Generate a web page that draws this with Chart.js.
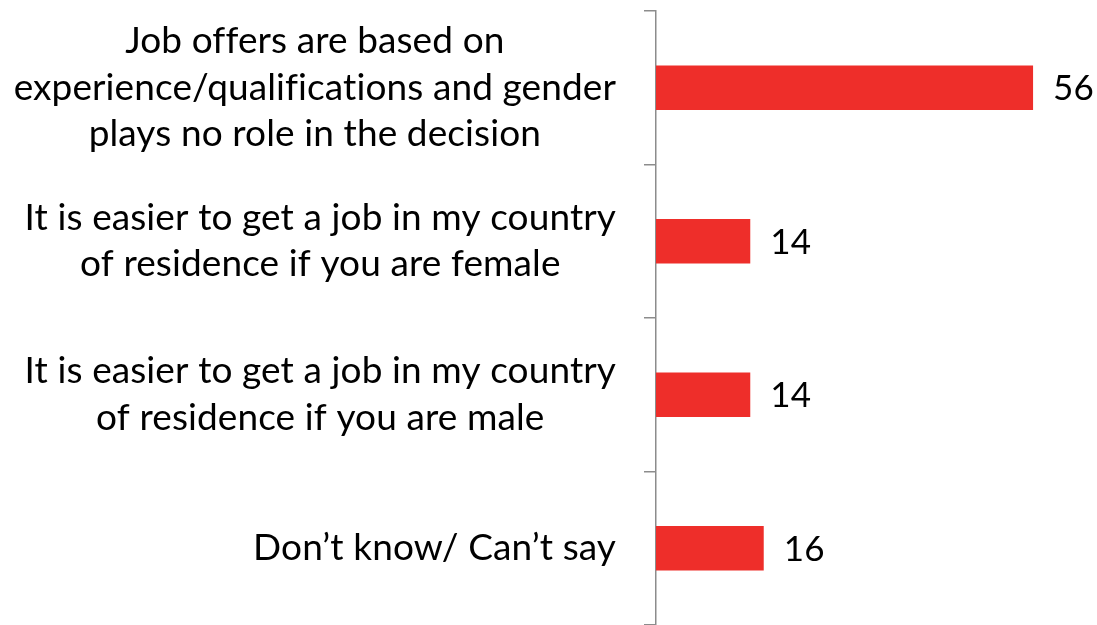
<!DOCTYPE html>
<html>
<head>
<meta charset="utf-8">
<script src="https://cdn.jsdelivr.net/npm/chart.js@4/dist/chart.umd.min.js"></script>
<style>
  html, body { margin: 0; padding: 0; background: #ffffff; }
  #wrap { width: 1097px; height: 625px; position: relative; }
</style>
</head>
<body>
<div id="wrap"><canvas id="c"></canvas></div>
<script>
// Survey answers (one entry per line of each category label)
const categories = [
  ["Job offers are based on", "experience/qualifications and gender", "plays no role in the decision"],
  ["It is easier to get a job in my country", "of residence if you are female"],
  ["It is easier to get a job in my country", "of residence if you are male"],
  ["Don’t know/ Can’t say"]
];
// Share of respondents (%)
const values = [56, 14, 14, 16];
const axisMax = 60;

const FONT_FAMILY = 'Lato, "Open Sans", sans-serif';
const FONT_SIZE = 37;
const VALUE_FONT_SIZE = 35;
const LINE_HEIGHT = 46.5;

function setTextStyle(ctx, size) {
  ctx.font = size + 'px ' + FONT_FAMILY;
  ctx.fillStyle = '#000000';
  // a tiny letter spacing keeps "fi"/"ti" as separate letters
  if ('letterSpacing' in ctx) ctx.letterSpacing = '0.1px';
}

// Category labels: each block right-aligned next to the axis, its lines centred on each other
const categoryLabels = {
  id: 'categoryLabels',
  afterDraw(chart) {
    const ctx = chart.ctx;
    const yScale = chart.scales.y;
    const right = chart.chartArea.left - 40;
    ctx.save();
    setTextStyle(ctx, FONT_SIZE);
    ctx.textAlign = 'center';
    ctx.textBaseline = 'middle';
    categories.forEach((lines, i) => {
      const cy = yScale.getPixelForValue(i);
      const widest = Math.max(...lines.map(l => ctx.measureText(l).width));
      const cx = right - widest / 2;
      lines.forEach((line, k) => {
        ctx.fillText(line, cx, cy + (k - (lines.length - 1) / 2) * LINE_HEIGHT);
      });
    });
    ctx.restore();
  }
};

// Value labels to the right of each bar
const valueLabels = {
  id: 'valueLabels',
  afterDatasetsDraw(chart) {
    const ctx = chart.ctx;
    const meta = chart.getDatasetMeta(0);
    ctx.save();
    setTextStyle(ctx, VALUE_FONT_SIZE);
    ctx.textAlign = 'left';
    ctx.textBaseline = 'middle';
    meta.data.forEach((bar, i) => {
      ctx.fillText(String(values[i]), bar.x + 20, bar.y + 1);
    });
    ctx.restore();
  }
};

new Chart(document.getElementById('c'), {
  type: 'bar',
  data: {
    labels: categories,
    datasets: [{
      data: values,
      backgroundColor: '#ee2e2a',
      borderWidth: 0,
      barPercentage: 0.29,
      categoryPercentage: 1.0
    }]
  },
  options: {
    indexAxis: 'y',
    responsive: true,
    maintainAspectRatio: false,
    animation: false,
    layout: { padding: { left: 644, right: 37, top: 11, bottom: 0 } },
    plugins: { legend: { display: false }, tooltip: { enabled: false } },
    scales: {
      x: {
        display: false,
        min: 0,
        max: axisMax
      },
      y: {
        offset: true,
        grid: {
          offset: true,
          drawOnChartArea: false,
          drawTicks: true,
          tickLength: 12,
          color: '#8c8c8c',
          lineWidth: 1.5
        },
        border: { display: true, color: '#8c8c8c', width: 1.5 },
        ticks: { display: false }
      }
    }
  },
  plugins: [categoryLabels, valueLabels]
});
</script>
</body>
</html>
